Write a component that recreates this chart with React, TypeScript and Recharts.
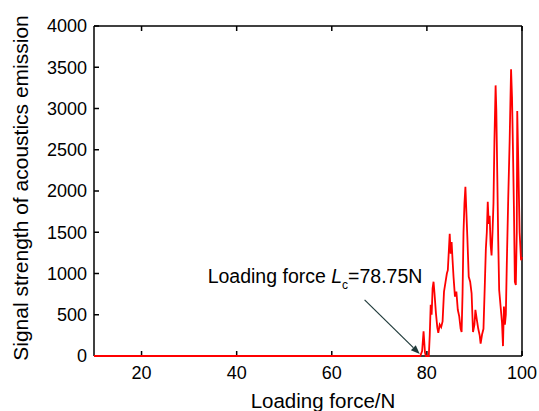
import { LineChart, Line, XAxis, YAxis, ReferenceLine, ReferenceDot } from 'recharts'

// loading force (N) and acoustic emission signal strength
const force = [
  10, 78.6, 79.0, 79.3, 79.6, 79.8, 80.4, 80.6, 80.8, 81.0, 81.2, 81.4, 81.6, 81.9, 82.2, 82.4,
  82.7, 83.0, 83.3, 83.6, 83.9, 84.2, 84.4, 84.6, 84.8, 85.0, 85.2, 85.4, 85.6, 85.9, 86.2, 86.5,
  86.8, 87.1, 87.3, 87.5, 87.7, 87.9, 88.1, 88.3, 88.5, 88.8, 89.1, 89.4, 89.7, 90.0, 90.2, 90.5,
  90.8, 91.1, 91.3, 91.6, 91.9, 92.2, 92.4, 92.6, 92.8, 93.0, 93.2, 93.4, 93.6, 93.8, 94.0, 94.2,
  94.45, 94.6, 94.8, 95.0, 95.2, 95.5, 95.8, 96.0, 96.2, 96.4, 96.6, 96.8, 97.1, 97.4, 97.7, 97.9,
  98.1, 98.3, 98.5, 98.7, 98.9, 99.0, 99.2, 99.5, 99.8, 100,
]
const signal = [
  0, 0, 60, 300, 40, 0, 0, 250, 620, 500, 820, 900, 760, 520, 340, 280,
  380, 350, 420, 780, 890, 1000, 1040, 1260, 1480, 1240, 1380, 1160, 960, 720, 780, 560,
  480, 330, 290, 760, 1500, 1850, 2050, 1750, 1450, 960, 900, 760, 290, 380, 560, 440,
  330, 250, 150, 260, 330, 900, 1300, 1500, 1870, 1600, 1700, 1350, 1220, 1500, 1850, 2600,
  3280, 2980, 2200, 1400, 800, 600, 400, 120, 600, 380, 500, 1100, 1900, 2600, 3475, 3140,
  2500, 1800, 900, 860, 1500, 2970, 2400, 1500, 1160, 1200,
]
const xTicks = [20, 40, 60, 80, 100]
const yTicks = [0, 500, 1000, 1500, 2000, 2500, 3000, 3500, 4000]

const data = force.map((f, i) => ({ force: f, signal: signal[i] }))

const FONT = '"Liberation Sans", Arial, sans-serif'
const tickStyle = { fill: '#000', fontSize: 18, fontFamily: FONT }

function Arrow({ x1, y1, x2, y2 }: any) {
  const a = Math.atan2(y2 - y1, x2 - x1)
  const len = 9
  const w = 3.5
  const bx = x2 - len * Math.cos(a)
  const by = y2 - len * Math.sin(a)
  const px = -Math.sin(a) * w
  const py = Math.cos(a) * w
  return (
    <g>
      <line x1={x1} y1={y1} x2={bx} y2={by} stroke="#1f3a3a" strokeWidth={1.2} />
      <polygon points={`${x2},${y2} ${bx + px},${by + py} ${bx - px},${by - py}`} fill="#1f3a3a" />
    </g>
  )
}

function Note({ cx, cy }: any) {
  return (
    <text x={cx} y={cy} fontSize={19.5} fontFamily={FONT} fill="#000">
      Loading force <tspan fontStyle="italic">L</tspan>
      <tspan fontSize={12} dy={6}>c</tspan>
      <tspan dy={-6}>=78.75N</tspan>
    </text>
  )
}

export default function App() {
  return (
    <div style={{ position: 'absolute', left: 0, top: 0, width: 539, height: 411, background: '#fff' }}>
      <LineChart width={539} height={411} data={data} margin={{ top: 25, right: 16, bottom: 0, left: 0 }}>
        <XAxis xAxisId="b" dataKey="force" type="number" domain={[10, 100]} ticks={xTicks} interval={0}
          orientation="bottom" height={55} tickSize={-5} tickMargin={15} stroke="#000" strokeWidth={1.5}
          tick={tickStyle}
          label={{
            content: ({ viewBox }: any) => (
              <text x={viewBox.x + viewBox.width / 2 + 15} y={viewBox.y + 52} textAnchor="middle"
                fontSize={20.5} fontFamily={FONT} fill="#000">Loading force/N</text>
            ),
          }} />
        <XAxis xAxisId="t" dataKey="force" type="number" domain={[10, 100]} ticks={xTicks} interval={0}
          orientation="top" height={1} tickSize={-5} tickMargin={0} stroke="#000" strokeWidth={1.5}
          tickFormatter={() => ''} />
        <YAxis yAxisId="l" type="number" domain={[0, 4000]} ticks={yTicks} interval={0} width={94}
          tickSize={-5} tickMargin={12} stroke="#000" strokeWidth={1.5} tick={tickStyle}
          label={{
            content: ({ viewBox }: any) => {
              const cy = viewBox.y + viewBox.height / 2 - 3
              return (
                <text x={28} y={cy} transform={`rotate(-90, 28, ${cy})`} textAnchor="middle"
                  fontSize={21} fontFamily={FONT} fill="#000">Signal strength of acoustics emission</text>
              )
            },
          }} />
        <YAxis yAxisId="r" orientation="right" type="number" domain={[0, 4000]} ticks={yTicks} interval={0}
          width={1} tickSize={-5} tickMargin={0} stroke="#000" strokeWidth={1.5} tickFormatter={() => ''} />
        <Line xAxisId="b" yAxisId="l" type="linear" dataKey="signal" stroke="#ff0000" strokeWidth={1.8}
          dot={false} isAnimationActive={false} zIndex={900} />
        <ReferenceLine xAxisId="b" yAxisId="l" segment={[{ x: 66.9, y: 680 }, { x: 78.5, y: 25 }]}
          shape={Arrow} ifOverflow="visible" />
        <ReferenceDot xAxisId="b" yAxisId="l" x={33.9} y={885} r={0} shape={Note} ifOverflow="visible" />
      </LineChart>
    </div>
  )
}
